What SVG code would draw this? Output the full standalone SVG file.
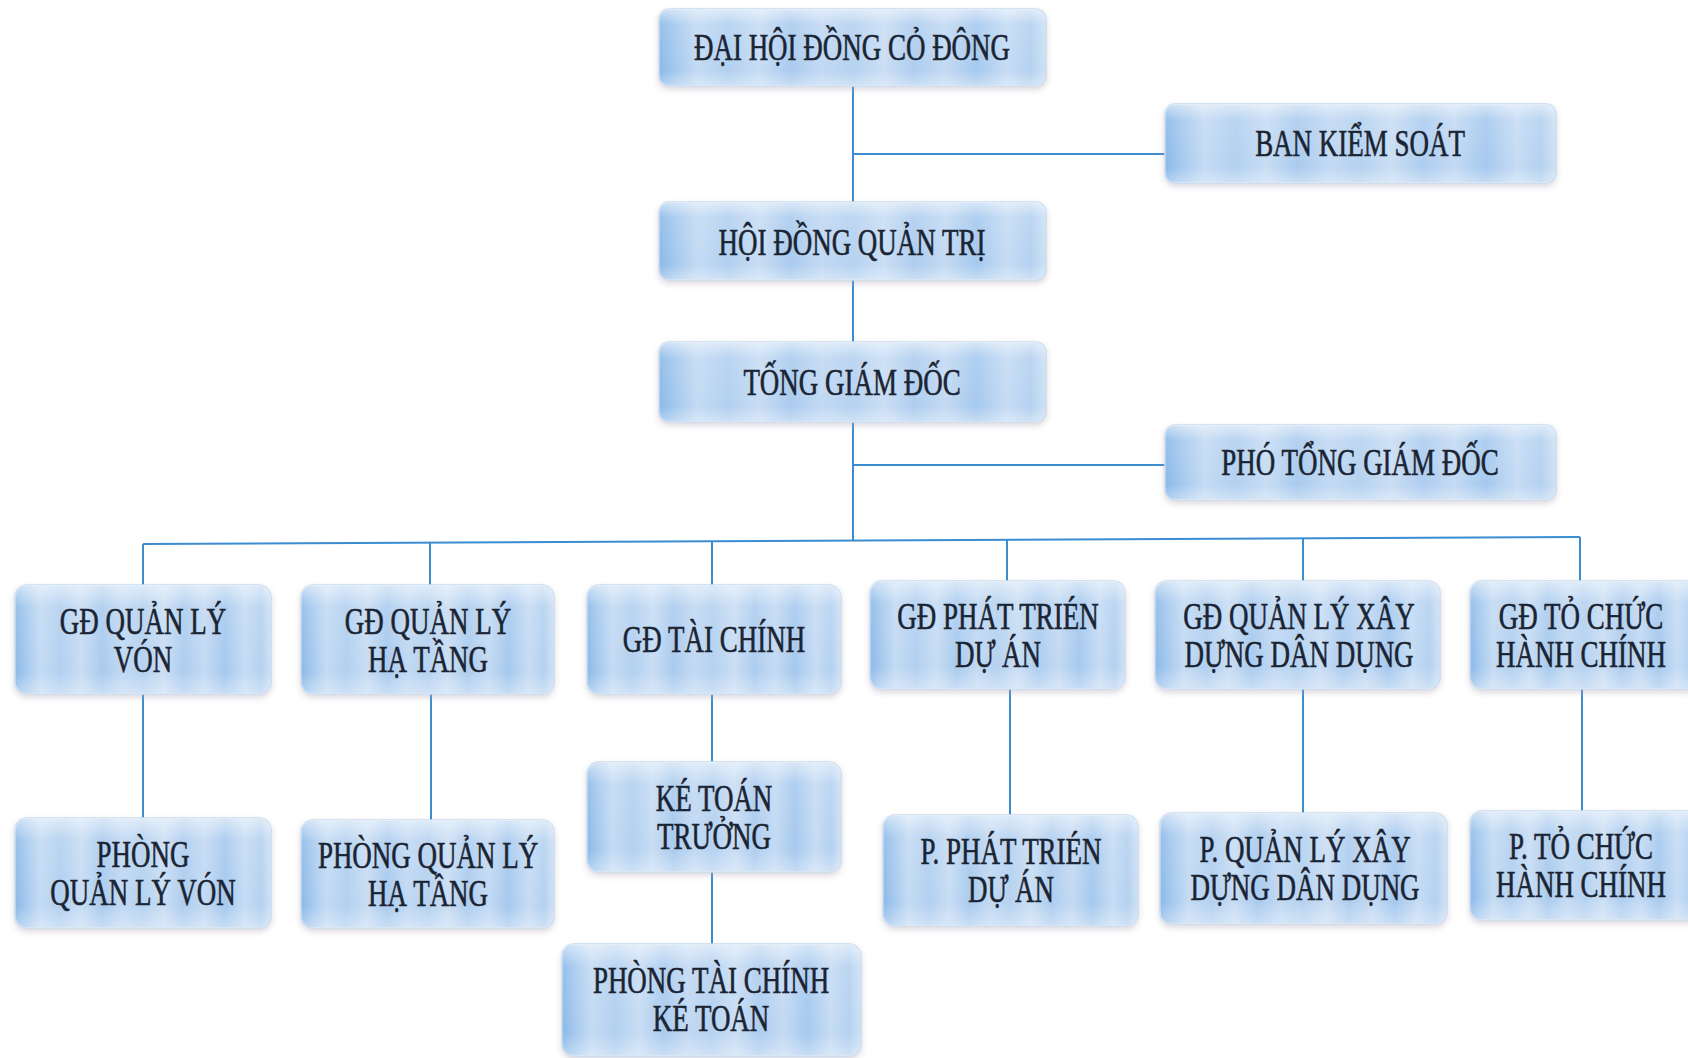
<svg xmlns="http://www.w3.org/2000/svg" width="1688" height="1058" viewBox="0 0 1688 1058">
<style>
.box{fill:url(#streak);stroke:#c9dbef;stroke-width:1.5;filter:url(#sh)}
.gloss{fill:url(#vgl);pointer-events:none}
.lbl text{font-family:"Liberation Serif","DejaVu Serif",serif;font-size:38px;fill:#1a2433;stroke:#1a2433;stroke-width:0.6;text-anchor:middle}
.con{stroke:#3b8cd0;stroke-width:2;fill:none}
</style>
<defs>
<linearGradient id="streak" x1="0" y1="0" x2="1" y2="0">
<stop offset="0" stop-color="#8ab9e8"/>
<stop offset="0.04" stop-color="#a4c8ee"/>
<stop offset="0.1" stop-color="#c4dbf3"/>
<stop offset="0.18" stop-color="#b2d0f0"/>
<stop offset="0.26" stop-color="#c8ddf4"/>
<stop offset="0.34" stop-color="#aacbee"/>
<stop offset="0.42" stop-color="#c2d9f3"/>
<stop offset="0.5" stop-color="#b5d2f0"/>
<stop offset="0.58" stop-color="#cadef4"/>
<stop offset="0.66" stop-color="#aecdef"/>
<stop offset="0.74" stop-color="#c4daf3"/>
<stop offset="0.82" stop-color="#a6c9ee"/>
<stop offset="0.9" stop-color="#c6dcf4"/>
<stop offset="0.96" stop-color="#b4d1f0"/>
<stop offset="1" stop-color="#cfe1f5"/>
</linearGradient>
<linearGradient id="vgl" x1="0" y1="0" x2="0" y2="1">
<stop offset="0" stop-color="#ffffff" stop-opacity="0.55"/>
<stop offset="0.2" stop-color="#ffffff" stop-opacity="0.1"/>
<stop offset="0.8" stop-color="#ffffff" stop-opacity="0"/>
<stop offset="1" stop-color="#ffffff" stop-opacity="0.35"/>
</linearGradient>
<filter id="sh" x="-5%" y="-10%" width="110%" height="125%">
<feGaussianBlur in="SourceAlpha" stdDeviation="3"/>
<feOffset dx="0" dy="3" result="b"/>
<feFlood flood-color="#b0a8b8" flood-opacity="0.45"/>
<feComposite in2="b" operator="in" result="s"/>
<feMerge><feMergeNode in="s"/><feMergeNode in="SourceGraphic"/></feMerge>
</filter>
</defs>
<rect width="1688" height="1058" fill="#ffffff"/>

<g id="connectors">
<line class="con" x1="853" y1="86" x2="853" y2="202"/>
<line class="con" x1="853" y1="154" x2="1165" y2="154"/>
<line class="con" x1="853" y1="280" x2="853" y2="342"/>
<line class="con" x1="853" y1="422" x2="853" y2="541"/>
<line class="con" x1="853" y1="465" x2="1165" y2="465"/>
<line class="con" x1="143" y1="544" x2="1580" y2="537"/>
<line class="con" x1="143" y1="544" x2="143" y2="585"/>
<line class="con" x1="430" y1="543" x2="430" y2="585"/>
<line class="con" x1="712" y1="541.5" x2="712" y2="585"/>
<line class="con" x1="1007" y1="539.5" x2="1007" y2="581"/>
<line class="con" x1="1303" y1="538" x2="1303" y2="581"/>
<line class="con" x1="1580" y1="537" x2="1580" y2="581"/>
<line class="con" x1="143" y1="694" x2="143" y2="818"/>
<line class="con" x1="431" y1="694" x2="431" y2="820"/>
<line class="con" x1="712" y1="694" x2="712" y2="762"/>
<line class="con" x1="712" y1="872" x2="712" y2="944"/>
<line class="con" x1="1010" y1="689" x2="1010" y2="815"/>
<line class="con" x1="1303" y1="689" x2="1303" y2="813"/>
<line class="con" x1="1582" y1="689" x2="1582" y2="811"/>
</g>

<g id="dhdcd">
<rect class="box" x="659" y="9" width="387" height="77" rx="10"/>
<rect class="gloss" x="659" y="9" width="387" height="77" rx="10"/>
<g class="lbl" transform="translate(852,0) scale(0.71,1)"><text x="0" y="60">ĐẠI HỘI ĐỒNG CỎ ĐÔNG</text></g>
</g>

<g id="bks">
<rect class="box" x="1165" y="104" width="391" height="79" rx="10"/>
<rect class="gloss" x="1165" y="104" width="391" height="79" rx="10"/>
<g class="lbl" transform="translate(1360,0) scale(0.71,1)"><text x="0" y="156">BAN KIỂM SOÁT</text></g>
</g>

<g id="hdqt">
<rect class="box" x="659" y="202" width="387" height="78" rx="10"/>
<rect class="gloss" x="659" y="202" width="387" height="78" rx="10"/>
<g class="lbl" transform="translate(852,0) scale(0.71,1)"><text x="0" y="255">HỘI ĐỒNG QUẢN TRỊ</text></g>
</g>

<g id="tgd">
<rect class="box" x="659" y="342" width="387" height="80" rx="10"/>
<rect class="gloss" x="659" y="342" width="387" height="80" rx="10"/>
<g class="lbl" transform="translate(852,0) scale(0.71,1)"><text x="0" y="395">TỐNG GIÁM ĐỐC</text></g>
</g>

<g id="ptgd">
<rect class="box" x="1165" y="425" width="391" height="75" rx="10"/>
<rect class="gloss" x="1165" y="425" width="391" height="75" rx="10"/>
<g class="lbl" transform="translate(1360,0) scale(0.71,1)"><text x="0" y="475">PHÓ TỔNG GIÁM ĐỐC</text></g>
</g>

<g id="gd-von">
<rect class="box" x="15" y="585" width="256" height="109" rx="12"/>
<rect class="gloss" x="15" y="585" width="256" height="109" rx="12"/>
<g class="lbl" transform="translate(143,0) scale(0.71,1)"><text x="0" y="634">GĐ QUẢN LÝ</text><text x="0" y="672">VÓN</text></g>
</g>

<g id="gd-hatang">
<rect class="box" x="301" y="585" width="253" height="109" rx="12"/>
<rect class="gloss" x="301" y="585" width="253" height="109" rx="12"/>
<g class="lbl" transform="translate(428,0) scale(0.71,1)"><text x="0" y="634">GĐ QUẢN LÝ</text><text x="0" y="672">HẠ TẦNG</text></g>
</g>

<g id="gd-taichinh">
<rect class="box" x="587" y="585" width="254" height="109" rx="12"/>
<rect class="gloss" x="587" y="585" width="254" height="109" rx="12"/>
<g class="lbl" transform="translate(714,0) scale(0.71,1)"><text x="0" y="652">GĐ TÀI CHÍNH</text></g>
</g>

<g id="gd-ptda">
<rect class="box" x="870" y="581" width="255" height="108" rx="12"/>
<rect class="gloss" x="870" y="581" width="255" height="108" rx="12"/>
<g class="lbl" transform="translate(998,0) scale(0.71,1)"><text x="0" y="629">GĐ PHÁT TRIÉN</text><text x="0" y="667">DỰ ÁN</text></g>
</g>

<g id="gd-qlxd">
<rect class="box" x="1155" y="581" width="285" height="108" rx="12"/>
<rect class="gloss" x="1155" y="581" width="285" height="108" rx="12"/>
<g class="lbl" transform="translate(1299,0) scale(0.71,1)"><text x="0" y="629">GĐ QUẢN LÝ XÂY</text><text x="0" y="667">DỰNG DÂN DỤNG</text></g>
</g>

<g id="gd-tchc">
<rect class="box" x="1470" y="581" width="230" height="108" rx="12"/>
<rect class="gloss" x="1470" y="581" width="230" height="108" rx="12"/>
<g class="lbl" transform="translate(1581,0) scale(0.71,1)"><text x="0" y="629">GĐ TỎ CHỨC</text><text x="0" y="667">HÀNH CHÍNH</text></g>
</g>

<g id="p-von">
<rect class="box" x="15" y="818" width="256" height="110" rx="12"/>
<rect class="gloss" x="15" y="818" width="256" height="110" rx="12"/>
<g class="lbl" transform="translate(143,0) scale(0.71,1)"><text x="0" y="867">PHÒNG</text><text x="0" y="905">QUẢN LÝ VÓN</text></g>
</g>

<g id="p-hatang">
<rect class="box" x="301" y="820" width="253" height="108" rx="12"/>
<rect class="gloss" x="301" y="820" width="253" height="108" rx="12"/>
<g class="lbl" transform="translate(428,0) scale(0.71,1)"><text x="0" y="868">PHÒNG QUẢN LÝ</text><text x="0" y="906">HẠ TẦNG</text></g>
</g>

<g id="ketoantruong">
<rect class="box" x="587" y="762" width="254" height="110" rx="12"/>
<rect class="gloss" x="587" y="762" width="254" height="110" rx="12"/>
<g class="lbl" transform="translate(714,0) scale(0.71,1)"><text x="0" y="811">KÉ TOÁN</text><text x="0" y="849">TRƯỞNG</text></g>
</g>

<g id="p-tckt">
<rect class="box" x="562" y="944" width="299" height="112" rx="12"/>
<rect class="gloss" x="562" y="944" width="299" height="112" rx="12"/>
<g class="lbl" transform="translate(711,0) scale(0.71,1)"><text x="0" y="993">PHÒNG TÀI CHÍNH</text><text x="0" y="1031">KÉ TOÁN</text></g>
</g>

<g id="p-ptda">
<rect class="box" x="883" y="815" width="255" height="111" rx="12"/>
<rect class="gloss" x="883" y="815" width="255" height="111" rx="12"/>
<g class="lbl" transform="translate(1011,0) scale(0.71,1)"><text x="0" y="864">P. PHÁT TRIÉN</text><text x="0" y="902">DỰ ÁN</text></g>
</g>

<g id="p-qlxd">
<rect class="box" x="1160" y="813" width="287" height="111" rx="12"/>
<rect class="gloss" x="1160" y="813" width="287" height="111" rx="12"/>
<g class="lbl" transform="translate(1305,0) scale(0.71,1)"><text x="0" y="862">P. QUẢN LÝ XÂY</text><text x="0" y="900">DỰNG DÂN DỤNG</text></g>
</g>

<g id="p-tchc">
<rect class="box" x="1470" y="811" width="230" height="109" rx="12"/>
<rect class="gloss" x="1470" y="811" width="230" height="109" rx="12"/>
<g class="lbl" transform="translate(1581,0) scale(0.71,1)"><text x="0" y="859">P. TỎ CHỨC</text><text x="0" y="897">HÀNH CHÍNH</text></g>
</g>
</svg>
